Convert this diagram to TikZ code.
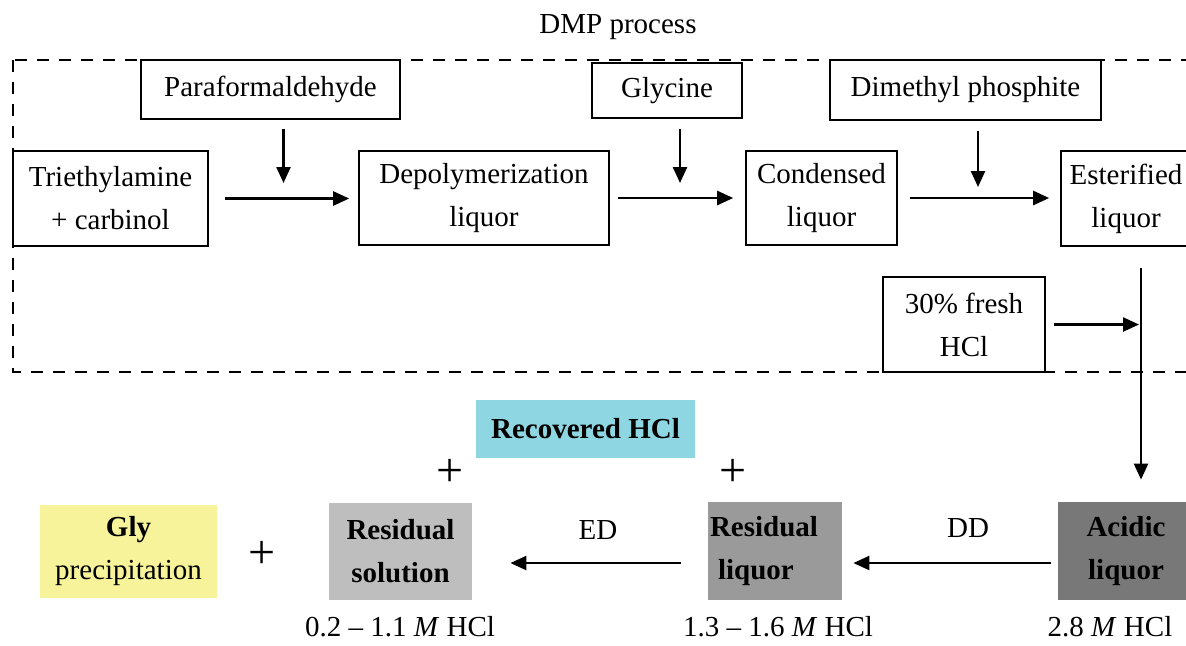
\documentclass[tikz,border=0pt]{standalone}
\usepackage{fontspec}
\setmainfont{Liberation Serif}
\definecolor{glyyellow}{RGB}{247,243,154}
\definecolor{solgray}{RGB}{190,190,190}
\definecolor{liqgray}{RGB}{154,154,154}
\definecolor{acidgray}{RGB}{120,120,120}
\definecolor{hclcyan}{RGB}{142,214,226}
\usetikzlibrary{arrows.meta, positioning, calc}

\begin{document}
\begin{tikzpicture}[x=0.5pt, y=-0.5pt, font=\fontsize{14.5}{21.5}\selectfont,
  procbox/.style={draw, line width=0.8pt, align=center, inner sep=0pt},
  fillbox/.style={fill=#1, align=center, inner sep=0pt},
  flow/.style={-{Triangle[length=8pt, width=7pt]}, line width=1.2pt},
  plussign/.style={font=\fontsize{24}{24}\selectfont}]
  \useasboundingbox (0,0) rectangle (1186,645);

  \draw[line width=0.7pt, dash pattern=on 6pt off 5pt] (13,60) rectangle (1215,372);
  \node (dmplabel) at (618,27) {DMP process};

  \node[procbox, minimum width=97.5pt, minimum height=47.5pt] (tea) at (110.5,198.5) {Triethylamine\\+ carbinol};
  \node[procbox, minimum width=129.5pt, minimum height=29.5pt] (para) at (270.5,89.5) {Paraformaldehyde};
  \node[procbox, minimum width=125pt, minimum height=47pt] (depol) at (484,198) {Depolymerization\\liquor};
  \node[procbox, minimum width=75pt, minimum height=27.5pt] (glycine) at (667,90.5) {Glycine};
  \node[procbox, minimum width=75.5pt, minimum height=47pt] (cond) at (821.5,198) {Condensed\\liquor};
  \node[procbox, minimum width=135.5pt, minimum height=30pt] (dmph) at (965.5,90) {Dimethyl phosphite};
  \node[procbox, minimum width=65pt, minimum height=47.5pt] (ester) at (1126,198.5) {Esterified\\liquor};
  \node[procbox, minimum width=81pt, minimum height=47.5pt] (freshhcl) at (964,324.5) {30\% fresh\\HCl};

  \node[fillbox=acidgray, minimum width=68pt, minimum height=49pt, font=\fontsize{14.5}{21.5}\selectfont\bfseries] (acid) at (1126,551) {Acidic\\liquor};
  \node[fillbox=liqgray, align=left, text width=65pt, inner xsep=1pt, minimum height=49pt, font=\fontsize{14.5}{21.5}\selectfont\bfseries] (resliq) at (775,551) {Residual\\\hspace*{4pt}liquor};
  \node[fillbox=solgray, minimum width=71.5pt, minimum height=48.5pt, font=\fontsize{14.5}{21.5}\selectfont\bfseries] (ressol) at (400.5,551.5) {Residual\\solution};
  \node[fillbox=glyyellow, minimum width=88.5pt, minimum height=46.5pt] (glyppt) at (128.5,551.5) {\textbf{Gly}\\precipitation};
  \node[fillbox=hclcyan, minimum width=109.5pt, minimum height=29pt, font=\fontsize{14.5}{21.5}\selectfont\bfseries] (rechcl) at (585.5,429) {Recovered HCl};

  \node[plussign] (plusgly) at (262,555) {+};
  \node[plussign] (plussol) at (450,473) {+};
  \node[plussign] (plusliq) at (733,473) {+};

  \node (acidconc) at (1110,627) {2.8 \textit{M} HCl};
  \node (liqconc) at (778,627) {1.3 -- 1.6 \textit{M} HCl};
  \node (solconc) at (400,627) {0.2 -- 1.1 \textit{M} HCl};
  \node (ddlabel) at (968,528) {DD};
  \node (edlabel) at (598,530) {ED};

  \coordinate (paradown) at (283.5,183);
  \coordinate (glydown) at (680,183);
  \coordinate (dmphdown) at (978,187);
  \coordinate (vtop) at (1141,268);

  \draw[flow, shorten <=4.5pt] (para.south -| paradown) -- (paradown);
  \draw[flow, shorten <=5pt] (glycine.south -| glydown) -- (glydown);
  \draw[flow, shorten <=5pt] (dmph.south -| dmphdown) -- (dmphdown);

  \draw[flow, shorten <=8pt, shorten >=4.5pt] (tea.east) -- (tea.east -| depol.west);
  \draw[flow, shorten <=4pt, shorten >=6pt] (depol.east) -- (depol.east -| cond.west);
  \draw[flow, shorten <=6pt, shorten >=5.5pt] (cond.east) -- (cond.east -| ester.west);
  \draw[flow, shorten <=4pt, shorten >=1pt] (freshhcl.east) -- (freshhcl.east -| vtop);
  \draw[flow, shorten >=11pt] (vtop) -- (vtop |- acid.north);

  \draw[flow, shorten <=3.5pt, shorten >=5.5pt] ([yshift=-6pt]acid.west) -- ([yshift=-6pt]acid.west -| resliq.east);
  \draw[flow, shorten <=13.5pt, shorten >=19pt] ([yshift=-6pt]resliq.west) -- ([yshift=-6pt]resliq.west -| ressol.east);
\end{tikzpicture}
\end{document}
